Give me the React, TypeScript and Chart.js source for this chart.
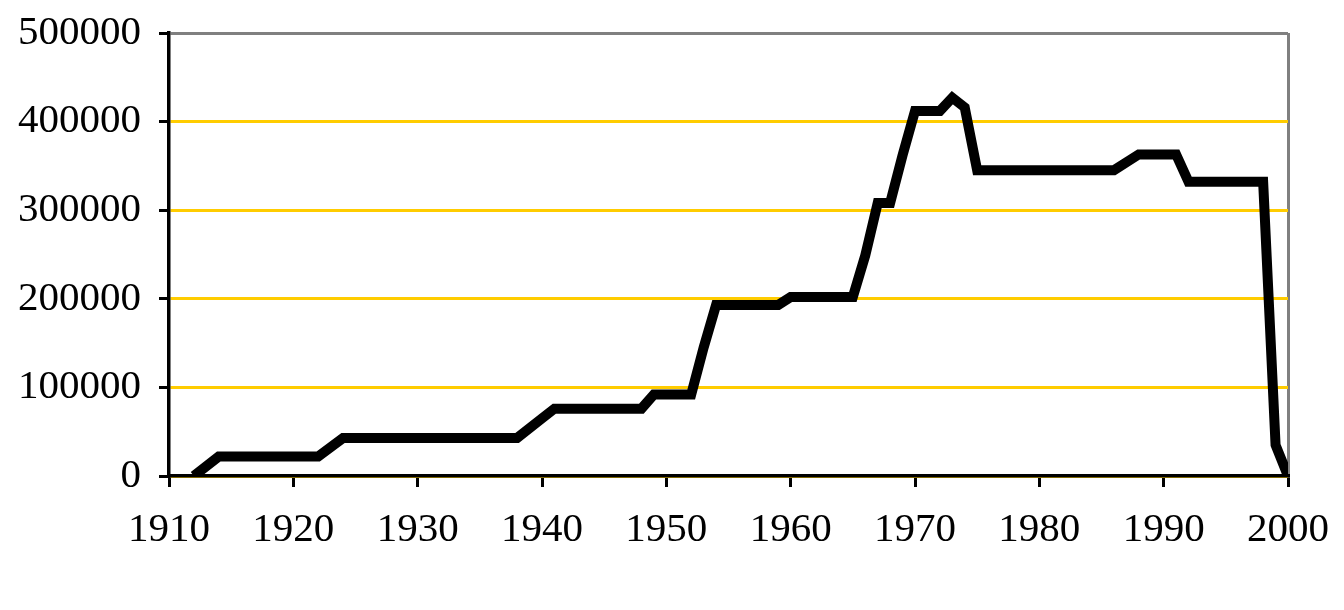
import React, { useEffect, useRef } from "react";
import { Chart, registerables } from "chart.js";

Chart.register(...registerables);

const years: number[] = [
  1912, 1914, 1922, 1924, 1938, 1940, 1941, 1948, 1949, 1952, 1953, 1954, 1959, 1960,
  1965, 1966, 1967, 1968, 1969, 1970, 1972, 1973, 1974, 1975, 1986, 1988, 1991, 1992,
  1998, 1999, 2000,
];
const values: number[] = [
  0, 22000, 22000, 43000, 43000, 65000, 76000, 76000, 92000, 92000, 145000, 193000, 193000, 202000,
  202000, 249000, 308000, 308000, 362000, 412000, 412000, 427000, 416000, 345000, 345000, 363000, 363000, 332000,
  332000, 35000, 0,
];
const xMin = 1910;
const xMax = 2000;
const xStep = 10;
const yMin = 0;
const yMax = 500000;
const yStep = 100000;

export default function App() {
  const ref = useRef<HTMLCanvasElement | null>(null);

  useEffect(() => {
    if (!ref.current) return;
    const font = { family: "'Liberation Serif', 'Times New Roman', serif", size: 41 };
    const chart = new Chart(ref.current, {
      type: "line",
      data: {
        datasets: [
          {
            data: years.map((y, i) => ({ x: y, y: values[i] })),
            borderColor: "#000000",
            borderWidth: 10,
            borderJoinStyle: "miter",
            pointRadius: 0,
            tension: 0,
            fill: false,
          },
        ],
      },
      options: {
        animation: false,
        responsive: false,
        maintainAspectRatio: false,
        devicePixelRatio: 1,
        layout: { padding: { top: 33, right: 56, left: 0, bottom: 0 } },
        plugins: { legend: { display: false }, tooltip: { enabled: false } },
        scales: {
          x: {
            type: "linear",
            min: xMin,
            max: xMax,
            afterFit: (s: any) => {
              s.height = 134;
              s.paddingLeft = 0;
              s.paddingRight = 0;
            },
            ticks: {
              stepSize: xStep,
              color: "#000",
              font,
              padding: 19,
              maxRotation: 0,
              callback: (v: any) => String(v),
            },
            grid: {
              drawOnChartArea: true,
              drawTicks: true,
              tickLength: 11,
              tickWidth: 3,
              tickColor: "#000",
              lineWidth: 3,
              color: (ctx: any) => (ctx.tick && ctx.tick.value === xMax ? "#808080" : "rgba(0,0,0,0)"),
            },
            border: { display: true, color: "#000", width: 3.5 },
          },
          y: {
            type: "linear",
            min: yMin,
            max: yMax,
            afterFit: (s: any) => {
              s.width = 169;
              s.paddingTop = 0;
              s.paddingBottom = 0;
            },
            ticks: {
              stepSize: yStep,
              color: "#000",
              font,
              padding: 18,
              callback: (v: any) => String(v),
            },
            grid: {
              drawOnChartArea: true,
              drawTicks: true,
              tickLength: 10,
              tickWidth: 3,
              tickColor: "#000",
              lineWidth: 3,
              color: (ctx: any) => (ctx.tick && ctx.tick.value === yMax ? "#808080" : "#FFCC00"),
            },
            border: { display: true, color: "#000", width: 3.5 },
          },
        },
      },
    });
    return () => chart.destroy();
  }, []);

  return (
    <div style={{ position: "fixed", left: 0, top: 0, width: 1344, height: 610, background: "#fff" }}>
      <canvas ref={ref} width={1344} height={610} style={{ width: 1344, height: 610 }} />
    </div>
  );
}
